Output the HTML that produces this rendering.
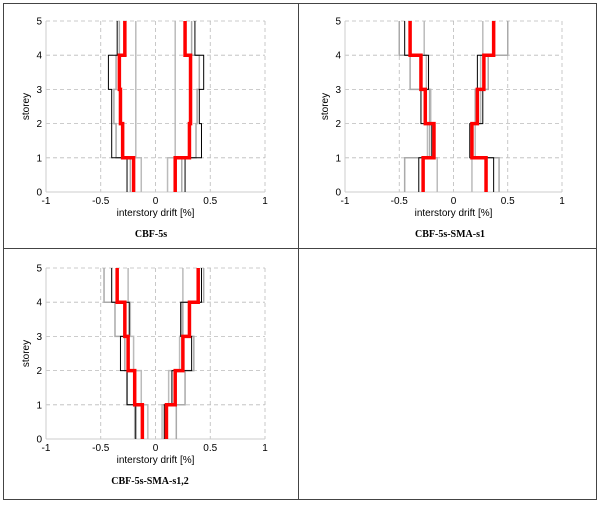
<!DOCTYPE html>
<html><head><meta charset="utf-8"><style>
body{margin:0;background:#fff;width:600px;height:505px;overflow:hidden}
svg{display:block}
</style></head><body>
<svg id="s" width="600" height="505" xmlns="http://www.w3.org/2000/svg" font-family="Liberation Sans, sans-serif">
<rect x="3.5" y="3.5" width="593" height="496" fill="none" stroke="#444" stroke-width="1"/>
<line x1="298.5" y1="3.5" x2="298.5" y2="499.5" stroke="#444"/>
<line x1="3.5" y1="248.5" x2="596.5" y2="248.5" stroke="#444"/>
<text x="151" y="237" font-family="Liberation Serif, serif" font-weight="bold" font-size="10" text-anchor="middle">CBF-5s</text>
<text x="450" y="237" font-family="Liberation Serif, serif" font-weight="bold" font-size="10" text-anchor="middle">CBF-5s-SMA-s1</text>
<text x="150" y="484" font-family="Liberation Serif, serif" font-weight="bold" font-size="10" text-anchor="middle">CBF-5s-SMA-s1,2</text>
</svg>
<script>
var NS="http://www.w3.org/2000/svg",S=document.getElementById('s');
function el(t,a,txt){var e=document.createElementNS(NS,t);for(var k in a)e.setAttribute(k,a[k]);if(txt!=null)e.textContent=txt;S.appendChild(e);return e;}
function plot(x0,x1,yt,yb,series){
 var X=function(v){return x0+(v+1)/2*(x1-x0)},Y=function(s){return yb-s/5*(yb-yt)};
 [-0.5,0,0.5].forEach(function(v){el('line',{x1:X(v),y1:yt,x2:X(v),y2:yb,stroke:'#bbb','stroke-dasharray':'4,3','stroke-width':0.8});});
 for(var s=1;s<=5;s++)el('line',{x1:x0,y1:Y(s),x2:x1,y2:Y(s),stroke:'#bbb','stroke-dasharray':'4,3','stroke-width':0.8});
 el('line',{x1:x1,y1:yt,x2:x1,y2:yb,stroke:'#bbb','stroke-dasharray':'4,3','stroke-width':0.8});
 el('line',{x1:x0,y1:yb,x2:x1,y2:yb,stroke:'#ccc','stroke-width':1});
 el('line',{x1:x0,y1:yt,x2:x0,y2:yb,stroke:'#ccc','stroke-width':1});
 series.forEach(function(sr){
  var d='';
  for(var i=0;i<5;i++){var v=sr.v[i];d+=(i==0?'M':'L')+X(v)+','+Y(i)+'L'+X(v)+','+Y(i+1);}
  el('path',{d:d,fill:'none',stroke:sr.c,'stroke-width':sr.w});
 });
 [['-1',-1],['-0.5',-0.5],['0',0],['0.5',0.5],['1',1]].forEach(function(p){el('text',{x:X(p[1]),y:yb+12,'font-size':10,'text-anchor':'middle'},p[0]);});
 for(var s=0;s<=5;s++)el('text',{x:x0-4,y:Y(s)+3.5,'font-size':10,'text-anchor':'end'},s);
 el('text',{x:(x0+x1)/2,y:yb+24,'font-size':10,'text-anchor':'middle'},'interstory drift [%]');
 var cy=(yt+yb)/2;el('text',{x:x0-17,y:cy,'font-size':10,'text-anchor':'middle',transform:'rotate(-90 '+(x0-17)+' '+cy+')'},'storey');
}
var G='#aaa',G2='#bbb',B='#000',R='#f00';
plot(46,265,21,192,[
 {c:G2,w:1.5,v:[-0.13,-0.18,-0.18,-0.18,-0.18]},{c:G2,w:1.5,v:[0.11,0.18,0.18,0.18,0.18]},
 {c:G,w:1.5,v:[-0.23,-0.36,-0.38,-0.36,-0.33]},{c:G,w:1.5,v:[0.24,0.37,0.38,0.40,0.33]},
 {c:B,w:1,v:[-0.26,-0.40,-0.40,-0.43,-0.35]},{c:B,w:1,v:[0.27,0.42,0.40,0.44,0.36]},
 {c:R,w:3.5,v:[-0.20,-0.30,-0.32,-0.33,-0.28]},{c:R,w:3.5,v:[0.18,0.31,0.32,0.32,0.27]}]);
plot(345,562,21,192,[
 {c:G2,w:1.5,v:[-0.15,-0.24,-0.21,-0.25,-0.27]},{c:G2,w:1.5,v:[0.17,0.20,0.25,0.25,0.27]},
 {c:G,w:1.5,v:[-0.45,-0.22,-0.22,-0.40,-0.50]},{c:G,w:1.5,v:[0.42,0.17,0.20,0.32,0.50]},
 {c:B,w:1,v:[-0.32,-0.20,-0.30,-0.23,-0.45]},{c:B,w:1,v:[0.37,0.15,0.27,0.22,0.37]},
 {c:R,w:3.5,v:[-0.28,-0.18,-0.26,-0.30,-0.40]},{c:R,w:3.5,v:[0.30,0.17,0.22,0.28,0.37]}]);
plot(46,265,268,439,[
 {c:G2,w:1.5,v:[-0.07,-0.13,-0.20,-0.23,-0.25]},{c:G2,w:1.5,v:[0.06,0.12,0.22,0.24,0.25]},
 {c:G,w:1.5,v:[-0.19,-0.26,-0.28,-0.37,-0.47]},{c:G,w:1.5,v:[0.19,0.27,0.35,0.25,0.44]},
 {c:B,w:1,v:[-0.18,-0.26,-0.32,-0.24,-0.40]},{c:B,w:1,v:[0.08,0.15,0.33,0.23,0.42]},
 {c:R,w:3.5,v:[-0.12,-0.19,-0.25,-0.28,-0.35]},{c:R,w:3.5,v:[0.10,0.18,0.25,0.31,0.39]}]);
</script>
</body></html>
